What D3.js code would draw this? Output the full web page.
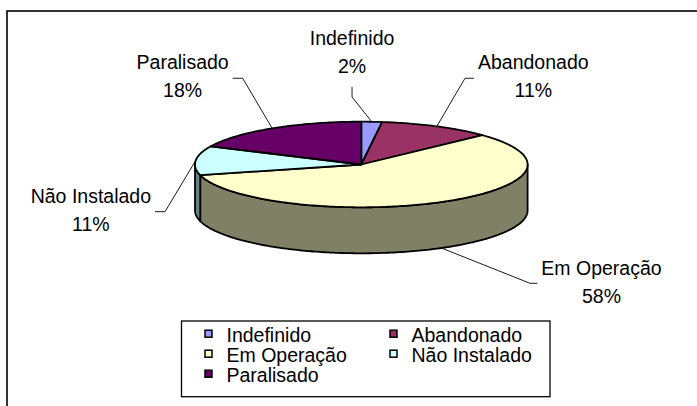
<!DOCTYPE html>
<html>
<head>
<meta charset="utf-8">
<script src="https://cdn.jsdelivr.net/npm/d3@7"></script>
<style>
html,body{margin:0;padding:0;background:#fff;}
svg{display:block;}
text{font-family:"Liberation Sans",Arial,sans-serif;fill:#000;}
</style>
</head>
<body>
<svg id="chart" width="697" height="406"></svg>
<script>
// ---- data ----
const categories = ["Indefinido", "Abandonado", "Em Operação", "Não Instalado", "Paralisado"];
const values = [2, 11, 58, 11, 18];
const percentLabels = ["2%", "11%", "58%", "11%", "18%"];
const colors = ["#9999FF", "#993366", "#FFFFCC", "#CCFFFF", "#660066"];

// ---- layout ----
const W = 697, H = 406;
const cx = 361.3, cy = 164.5, rx = 166.3, ry = 42.8, depth = 46;
const fontSize = 19.5;
// leader elbow offsets from slice anchor, and tail vector
const leaderElbow = [[-19.7, -24.8], [28.2, -48.1], [88.6, 35.3], [-30.7, 51.2], [-29.5, -50.1]];
const leaderTail = [[0, -10], [9, 0], [7.3, 0], [-10, 0], [-10, 0]];

const svg = d3.select("#chart");
svg.append("rect").attr("width", W).attr("height", H).attr("fill", "#fff");
// chart area border
svg.append("rect").attr("x", 7).attr("y", 11).attr("width", 720).attr("height", 420)
  .attr("fill", "#fff").attr("stroke", "#000").attr("stroke-width", 1.6);

const pie = d3.pie().sort(null).value(d => d)(values);
const pt = (a, dy = 0) => [cx + rx * Math.sin(a), cy - ry * Math.cos(a) + dy];
const line = d3.line();
const N = 180;
function arcPts(a0, a1, dy) {
  const n = Math.max(2, Math.ceil(Math.abs(a1 - a0) / (2 * Math.PI) * N * 2));
  return d3.range(n + 1).map(i => pt(a0 + (a1 - a0) * i / n, dy));
}

const g = svg.append("g");
// outer walls (visible front half: PI/2 .. 3PI/2)
pie.forEach((d, i) => {
  const a0 = Math.max(d.startAngle, Math.PI / 2), a1 = Math.min(d.endAngle, 3 * Math.PI / 2);
  if (a1 <= a0) return;
  const top = arcPts(a0, a1, 0), bot = arcPts(a1, a0, depth);
  const c = d3.rgb(colors[i]);
  const dark = d3.rgb(c.r * 0.5, c.g * 0.5, c.b * 0.5);
  g.append("path").attr("d", line(top.concat(bot)) + "Z")
    .attr("fill", dark).attr("stroke", "#000").attr("stroke-width", 1.8).attr("stroke-linejoin", "round");
});
// top faces
pie.forEach((d, i) => {
  const pts = [[cx, cy]].concat(arcPts(d.startAngle, d.endAngle, 0));
  g.append("path").attr("d", line(pts) + "Z")
    .attr("fill", colors[i]).attr("stroke", "#000").attr("stroke-width", 1.8).attr("stroke-linejoin", "round");
});

// labels with leader lines
pie.forEach((d, i) => {
  const mid = (d.startAngle + d.endAngle) / 2;
  const onFront = Math.cos(mid) < -0.5;
  const anchor = pt(mid, onFront ? depth : 0);
  const elbow = [anchor[0] + leaderElbow[i][0], anchor[1] + leaderElbow[i][1]];
  const end = [elbow[0] + leaderTail[i][0], elbow[1] + leaderTail[i][1]];
  svg.append("path").attr("d", line([anchor, elbow, end]))
    .attr("fill", "none").attr("stroke", "#000").attr("stroke-width", 0.9);
  const t1 = svg.append("text").attr("font-size", fontSize).attr("text-anchor", "middle").text(categories[i]);
  const t2 = svg.append("text").attr("font-size", fontSize).attr("text-anchor", "middle").text(percentLabels[i]);
  const w = Math.max(t1.node().getComputedTextLength(), t2.node().getComputedTextLength());
  let x, b1;
  if (leaderTail[i][0] === 0) {
    x = end[0];
    b1 = end[1] - 13.7 - 28;
  } else {
    const dir = Math.sign(leaderTail[i][0]);
    x = end[0] + dir * (4 + w / 2);
    b1 = end[1] - 8.8;
  }
  t1.attr("x", x).attr("y", b1);
  t2.attr("x", x).attr("y", b1 + 28);
});

// legend
const lg = svg.append("g");
lg.append("rect").attr("x", 181.5).attr("y", 321).attr("width", 368.5).attr("height", 75.7)
  .attr("fill", "#fff").attr("stroke", "#000").attr("stroke-width", 1.3);
const colX = d3.scaleOrdinal().domain([0, 1]).range([226.5, 411.5]);
const rowY = d3.scaleLinear().domain([0, 1]).range([341.7, 361.7]);
categories.forEach((c, i) => {
  const tx = colX(i % 2), by = rowY(Math.floor(i / 2));
  lg.append("rect").attr("x", tx - 21.5).attr("y", by - 11.5).attr("width", 7).attr("height", 7)
    .attr("fill", colors[i]).attr("stroke", "#000").attr("stroke-width", 1.5);
  lg.append("text").attr("x", tx).attr("y", by).attr("font-size", fontSize).text(c);
});
</script>
</body>
</html>
